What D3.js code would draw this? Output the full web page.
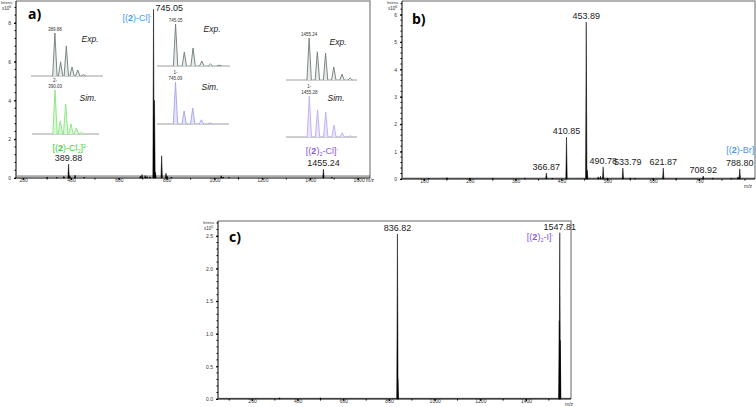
<!DOCTYPE html>
<html>
<head>
<meta charset="utf-8">
<script src="https://cdn.jsdelivr.net/npm/d3@7"></script>
<style>
  body { margin: 0; background: #fff; }
  svg { display: block; font-family: "Liberation Sans Narrow", "Liberation Sans", "DejaVu Sans Condensed", sans-serif; }
</style>
</head>
<body>
<script>
// ---- data (m/z, intensity) ----
const peaksA = [
  [300, 0.05], [340, 0.04], [370, 0.09], [389.88, 0.72], [395, 0.12], [417, 0.15], [455, 0.05],
  [690, 0.1], [697, 0.18], [710, 0.13], [718, 0.08], [730, 0.06],
  [745.05, 8.7], [749.05, 4.0], [753, 0.3], [779, 1.15], [797, 0.25], [802, 0.1], [820, 0.05],
  [1028, 0.12], [1036, 0.05], [1060, 0.04], [1100, 0.03], [1455.24, 0.45], [1490, 0.05]
];
const peaksB = [
  [110, 0.03], [150, 0.05], [200, 0.04], [250, 0.03], [320, 0.04], [366.87, 0.22], [380, 0.03],
  [410.85, 1.53], [453.89, 5.73], [456, 0.33], [480, 0.08], [485, 0.1], [490.78, 0.44],
  [500, 0.04], [533.79, 0.40], [550, 0.04], [560, 0.03], [600, 0.03], [621.87, 0.40],
  [650, 0.02], [708.92, 0.11], [730, 0.04], [770, 0.03], [785, 0.08], [788.80, 0.37]
];
const peaksC = [
  [320, 0.02], [500, 0.02], [836.82, 2.53], [838.8, 0.3], [1545.8, 1.2], [1547.81, 2.55], [1549.8, 0.9]
];

const labelsA = [389.88, 1455.24];
const labelsB = [366.87, 410.85, 453.89, 490.78, 533.79, 621.87, 708.92, 788.80];
const labelsC = [836.82, 1547.81];

const ticksA = [200, 400, 600, 800, 1000, 1200, 1400, 1600];
const ticksB = [100, 200, 300, 400, 500, 600, 700];
const ticksC = [200, 400, 600, 800, 1000, 1200, 1400];
const yTicksA = [0, 2, 4, 6, 8];
const yTicksB = [0, 1, 2, 3, 4, 5, 6];
const yTicksC = [0, 0.5, 1.0, 1.5, 2.0, 2.5];

// isotope patterns of the insets (m/z, relative intensity)
const exp389 = [[389.88, 1], [390.88, 0.33], [391.88, 0.70], [392.88, 0.21], [393.88, 0.14], [394.88, 0.03]];
const sim390 = [[390.03, 1], [391.03, 0.30], [392.03, 0.68], [393.03, 0.23], [394.03, 0.14], [395.03, 0.04]];
const exp745 = [[745.05, 1], [747.05, 0.33], [749.05, 0.43], [751.05, 0.12], [753.05, 0.05], [755.05, 0.02]];
const sim745 = [[745.09, 1], [747.09, 0.31], [749.09, 0.38], [751.09, 0.10], [753.09, 0.03]];
const exp1455 = [[1455.24, 1], [1457.24, 0.67], [1459.24, 0.64], [1461.24, 0.31], [1463.24, 0.14], [1465.24, 0.05]];
const sim1455 = [[1455.28, 1], [1457.28, 0.66], [1459.28, 0.61], [1461.28, 0.29], [1463.28, 0.10], [1465.28, 0.03]];

const BLUE = "#4a98e8", GREEN = "#3ccf3c", PURPLE = "#8656e4";

// labels nudged sideways in the original (px)
const labelShift = { 533.79: 5 };

const svg = d3.select("body").append("svg")
  .attr("width", 756)
  .attr("height", 407);

function panel(opt) {
  const x = d3.scaleLinear().domain(opt.xd).range([opt.l, opt.r]);
  const y = d3.scaleLinear().domain(opt.yd).range([opt.b, opt.t]);
  const g = svg.append("g");

  // grey frame top/right
  g.append("path")
    .attr("d", `M${opt.l},${opt.t}H${opt.r}V${opt.b}`)
    .attr("fill", "none").attr("stroke", "#999").attr("stroke-width", 1.5);

  // x axis
  const xa = g.append("g").attr("transform", `translate(0,${opt.b})`)
    .call(d3.axisBottom(x).tickValues(opt.xt).tickSize(2).tickPadding(1).tickFormat(d => d));
  const minorX = d3.range(opt.xt[0] - opt.xstep / 2, opt.xd[1], opt.xstep / 2).filter(v => v > opt.xd[0]);
  xa.selectAll(".minor").data(minorX).join("line").attr("class", "minor")
    .attr("x1", d => x(d)).attr("x2", d => x(d)).attr("y2", 1.5).attr("stroke", "#000");
  xa.select(".domain").attr("d", `M${opt.l},0H${opt.r}`);

  // y axis
  const ya = g.append("g").attr("transform", `translate(${opt.l},0)`)
    .call(d3.axisLeft(y).tickValues(opt.yt).tickSize(2).tickFormat(opt.yf));
  const minorY = d3.range(0, opt.yd[1], opt.ystep / 5);
  ya.selectAll(".minor").data(minorY).join("line").attr("class", "minor")
    .attr("x1", 0).attr("x2", -1.5).attr("y1", d => y(d)).attr("y2", d => y(d)).attr("stroke", "#000");
  ya.select(".domain").attr("d", `M0,${opt.b}V${opt.t}`);

  g.selectAll(".tick text").attr("font-size", 5).attr("fill", "#333")
    .attr("font-family", "Liberation Sans, sans-serif");
  g.selectAll(".domain").attr("stroke", "#000");
  xa.selectAll(".tick text").attr("dy", opt.tickDy);

  // axis captions
  g.append("text").attr("x", opt.l - 15).attr("y", opt.t + 3).attr("font-size", 4).attr("fill", "#333").text("Intens.");
  const ex = g.append("text").attr("x", opt.l - 14).attr("y", opt.t + 9).attr("font-size", 4.5).attr("fill", "#333");
  ex.append("tspan").text("x10");
  ex.append("tspan").attr("dy", -2).attr("font-size", 3.5).text(opt.exp);
  if (opt.mz) {
    g.append("text").attr("x", opt.mz).attr("y", opt.b + 3 + 5 * opt.tickDy)
      .attr("font-family", "Liberation Sans, sans-serif")
      .attr("font-size", 5).attr("fill", "#333").text("m/z");
  }

  // baseline noise
  g.append("line").attr("x1", opt.l + 1).attr("x2", opt.r).attr("y1", y(opt.noise)).attr("y2", y(opt.noise))
    .attr("stroke", "#000").attr("stroke-width", 0.6);

  // spectrum sticks
  g.selectAll(".pk").data(opt.peaks).join("path").attr("class", "pk")
    .attr("d", d => `M${x(d[0]) - 0.7},${opt.b}L${x(d[0])},${y(d[1])}L${x(d[0]) + 0.7},${opt.b}Z`)
    .attr("fill", "#000").attr("stroke", "#000").attr("stroke-width", 0.5);

  // peak labels
  const byMz = new Map(opt.peaks);
  g.selectAll(".pl").data(opt.labels).join("text").attr("class", "pl")
    .attr("x", d => x(d) + (labelShift[d] || 0)).attr("y", d => y(byMz.get(d)) - 3)
    .attr("text-anchor", "middle").attr("font-size", 9).attr("fill", "#222")
    .text(d => d.toFixed(2));

  // panel letter
  g.append("text").attr("x", opt.letterX).attr("y", opt.letterY)
    .attr("font-family", "Open Sans, sans-serif")
    .attr("font-size", 14).attr("font-weight", "bold").attr("fill", "#000").text(opt.letter);

  return { g, x, y };
}

function species(g, cx, cy, color, sub, charge) {
  const t = g.append("text").attr("x", cx).attr("y", cy).attr("text-anchor", "middle")
    .attr("font-size", 9).attr("fill", color);
  t.append("tspan").text("[(");
  t.append("tspan").attr("font-weight", "bold").text("2");
  t.append("tspan").text(")");
  if (sub.pre) t.append("tspan").attr("font-size", 5.5).attr("dy", 2).text(sub.pre);
  t.append("tspan").attr("dy", sub.pre ? -2 : 0).text("-" + sub.ion);
  if (sub.post) t.append("tspan").attr("font-size", 5.5).attr("dy", 2).text(sub.post);
  t.append("tspan").attr("dy", sub.post ? -2 : 0).text("]");
  t.append("tspan").attr("font-size", 5).attr("dy", -3.5).text(charge);
}

function inset(g, data, box, stroke, fill, topLabel) {
  const x = d3.scaleLinear().domain(box.xd).range([box.x0, box.x1]);
  const y = d3.scaleLinear().domain([0, 1]).range([box.base, box.base - box.h]);
  const hw = 2.2;
  // baseline
  g.append("line").attr("x1", box.x0).attr("x2", box.x1).attr("y1", box.base).attr("y2", box.base)
    .attr("stroke", "#9aa09d").attr("stroke-width", 1);
  // isotope peaks
  g.selectAll(null).data(data).join("path")
    .attr("d", p => `M${x(p[0]) - hw},${box.base}L${x(p[0])},${y(p[1])}L${x(p[0]) + hw},${box.base}`)
    .attr("fill", fill).attr("stroke", stroke).attr("stroke-width", 0.9).attr("stroke-linejoin", "round");
  const lx = x(data[0][0]);
  const ly = y(data[0][1]) - 2.5;
  topLabel.slice().reverse().forEach((s, i) => {
    g.append("text").attr("x", lx).attr("y", ly - i * 5.5).attr("text-anchor", "middle")
      .attr("font-family", "Liberation Sans, sans-serif")
      .attr("font-size", 4.5).attr("fill", "#333").text(s);
  });
}

function italic(g, x, y, s) {
  g.append("text").attr("x", x).attr("y", y).attr("font-size", 8.5).attr("font-style", "italic")
    .attr("text-anchor", "middle").attr("fill", "#222").text(s);
}

// ---- panel a ----
const A = panel({
  l: 16, r: 370, t: 1, b: 178, xd: [170, 1650], yd: [0, 9.13], xt: ticksA, xstep: 200,
  yt: yTicksA, ystep: 2, yf: d => d, exp: "6", peaks: peaksA, labels: labelsA, noise: 0.1,
  letter: "a)", letterX: 28, letterY: 19, tickDy: 1.1
});
A.g.selectAll("g.tick text").filter(d => d === 1600).text("1600 m/z").attr("text-anchor", "start").attr("dx", -5);
// 745.05 label sits beside its peak
A.g.append("text").attr("x", A.x(745.05) + 2).attr("y", 11).attr("font-size", 9).attr("fill", "#222").text("745.05");

species(A.g, 137, 21, BLUE, { ion: "Cl" }, "-");
species(A.g, 70, 151, GREEN, { ion: "Cl", post: "2" }, "2-");
species(A.g, 322, 154, PURPLE, { pre: "2", ion: "Cl" }, "-");

inset(A.g, exp389, { x0: 31, x1: 103, base: 76, h: 43, xd: [385.7, 398.3] }, "#6f7c76", "#e4ebe8", ["389.88"]);
inset(A.g, sim390, { x0: 32, x1: 99, base: 134, h: 44, xd: [385.7, 398.3] }, "#86e47f", "#dcf8d6", ["2-", "390.03"]);
inset(A.g, exp745, { x0: 157, x1: 230, base: 66, h: 42, xd: [740.8, 757.5] }, "#6f7c76", "#e4ebe8", ["745.05"]);
inset(A.g, sim745, { x0: 157, x1: 229, base: 124, h: 42, xd: [740.8, 757.5] }, "#a4a4ee", "#e2e2fa", ["1-", "745.09"]);
inset(A.g, exp1455, { x0: 286, x1: 357, base: 80, h: 42, xd: [1449.6, 1466.9] }, "#6f7c76", "#e4ebe8", ["1455.24"]);
inset(A.g, sim1455, { x0: 286, x1: 357, base: 137, h: 41, xd: [1449.6, 1466.9] }, "#c0aaf0", "#ece4fb", ["1-", "1455.28"]);

italic(A.g, 90, 42, "Exp.");
italic(A.g, 88, 101, "Sim.");
italic(A.g, 212, 32, "Exp.");
italic(A.g, 210, 90, "Sim.");
italic(A.g, 338, 45, "Exp.");
italic(A.g, 336, 101, "Sim.");

// ---- panel b ----
const B = panel({
  l: 402, r: 755, t: 1, b: 179, xd: [52, 822], yd: [0, 6.5], xt: ticksB, xstep: 100,
  yt: yTicksB, ystep: 1, yf: d => d, exp: "6", peaks: peaksB, labels: labelsB, noise: 0.03,
  letter: "b)", letterX: 412, letterY: 24, mz: 744, tickDy: 1.1
});
species(B.g, 741, 153, BLUE, { ion: "Br" }, "-");

// ---- panel c ----
const C = panel({
  l: 218, r: 571, t: 221, b: 399, xd: [51, 1597], yd: [0, 2.73], xt: ticksC, xstep: 200,
  yt: yTicksC, ystep: 0.5, yf: d3.format(".1f"), exp: "5", peaks: peaksC, labels: labelsC, noise: 0.01,
  letter: "c)", letterX: 229, letterY: 242, mz: 565, tickDy: 0.7
});
species(C.g, 540, 240, PURPLE, { pre: "2", ion: "I" }, "-");
</script>
</body>
</html>
